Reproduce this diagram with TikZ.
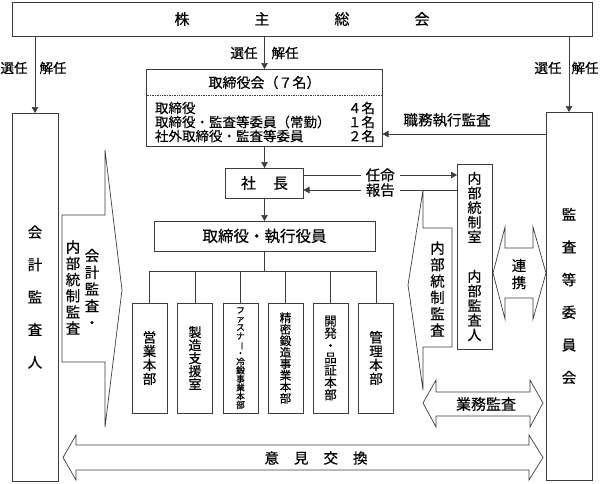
\documentclass[tikz,border=0pt]{standalone}
\usepackage{fontspec}
\setmainfont[FakeBold=0.35]{Noto Sans CJK JP}
\usetikzlibrary{arrows.meta}
\definecolor{lc}{HTML}{3C3C3C}
\newcommand\jfs[2]{\fontsize{#1}{#2}\selectfont}
\begin{document}
\begin{tikzpicture}[x=1pt,y=-1pt,
  every node/.style={inner sep=0pt, outer sep=0pt},
  box/.style={draw=lc, line width=0.7pt, fill=white},
  shp/.style={draw=lc, line width=0.7pt, line join=miter},
  conn/.style={draw=lc, line width=0.7pt},
  arr/.style={conn, -{Triangle[length=6pt,width=6.5pt]}},
  lab/.style={font=\jfs{13.5}{15}},
  vt/.style={align=center},
]
\useasboundingbox (0,0) rectangle (604,483);

% main boxes
\node[box, minimum width=580pt, minimum height=34pt, font=\jfs{15}{16}] (sh) at (302,19)
  {株\hspace{65pt}主\hspace{65pt}総\hspace{65pt}会};
\node[box, vt, minimum width=46pt, minimum height=368pt, font=\jfs{14.5}{32.5}] (acct) at (35,297)
  {会\\計\\監\\査\\人};
\node[box, vt, minimum width=46pt, minimum height=368pt, font=\jfs{14.5}{32.6}] (aud) at (569,296)
  {監\\査\\等\\委\\員\\会};

% board
\node[box, minimum width=236pt, minimum height=77pt] (board) at (264.5,107.5) {};
\node[font=\jfs{14}{15}] (bh) at (264.5,82.5) {取締役会（７名）};
\draw[lc, densely dotted, line width=0.7pt] ([yshift=-26pt]board.north west) -- ([yshift=-26pt]board.north east);
\node[lab, anchor=west] (r1) at (155,108) {取締役};
\node[lab, anchor=west] (r2) at (155,122) {取締役・監査等委員（常勤）};
\node[lab, anchor=west] (r3) at (155,136) {社外取締役・監査等委員};
\node[lab, anchor=east] (n1) at (375,108) {４名};
\node[lab, anchor=east] (n2) at (375,122) {１名};
\node[lab, anchor=east] (n3) at (375,136) {２名};

\node[box, minimum width=78pt, minimum height=30pt, font=\jfs{15}{16}] (pres) at (264.5,183) {社\hspace{17pt}長};
\node[box, minimum width=221pt, minimum height=30pt, font=\jfs{15.5}{16}] (exec) at (264.5,236) {取締役・執行役員};

% departments
\node[box, vt, minimum width=35pt, minimum height=110pt, font=\jfs{13.5}{13.8}] (d1) at (149.5,358) {営\\業\\本\\部};
\node[box, vt, minimum width=35pt, minimum height=110pt, font=\jfs{13}{13}] (d2) at (195,358) {製\\造\\支\\援\\室};
\node[box, vt, minimum width=35pt, minimum height=110pt, font=\jfs{8.8}{8.6}] (d3) at (240.5,358)
  {フ\\ァ\\ス\\ナ\\\rotatebox[origin=c]{-90}{ー}\\・\\冷\\鍛\\事\\業\\本\\部};
\node[box, vt, minimum width=35pt, minimum height=110pt, font=\jfs{11.5}{11.5}] (d4) at (285.5,358) {精\\密\\鍛\\造\\事\\業\\本\\部};
\node[box, vt, minimum width=35pt, minimum height=110pt, font=\jfs{12.5}{12.3}] (d5) at (330.5,358) {開\\発\\・\\品\\証\\本\\部};
\node[box, vt, minimum width=35pt, minimum height=110pt, font=\jfs{13.5}{13.8}] (d6) at (376,358) {管\\理\\本\\部};

% internal control room
\node[box, vt, minimum width=35pt, minimum height=185pt, font=\jfs{14}{14.6}] (irc) at (474.5,256.5)
  {内\\部\\統\\制\\室\\[25pt]内\\部\\監\\査\\人};

% selection arrows
\draw[arr] (acct.north |- sh.south) -- (acct.north);
\draw[arr] (aud.north |- sh.south) -- (aud.north);
\draw[arr] (board.north |- sh.south) -- (board.north);
\node[lab] (la1) at (14,68) {選任};
\node[lab] (la2) at (53,68) {解任};
\node[lab] (lb1) at (548,68) {選任};
\node[lab] (lb2) at (585,68) {解任};
\node[lab] (lc1) at (244,53) {選任};
\node[lab] (lc2) at (285,53) {解任};

% board -> president -> exec
\draw[arr] (board.south) -- (pres.north);
\draw[arr] (pres.south) -- (exec.north);

% tree
\coordinate (tj) at (264.5,271);
\draw[conn] (exec.south) -- (tj);
\draw[conn] (d1.north |- tj) -- (d6.north |- tj);
\foreach \i in {1,...,6} \draw[conn] (d\i.north |- tj) -- (d\i.north);

% duty audit
\draw[arr] ([yshift=-22pt]aud.north west) -- ([yshift=-22pt]aud.north west -| board.east);
\node[lab, font=\jfs{14.5}{16}] (jm) at (447,120) {職務執行監査};

% appoint / report
\draw[arr] ([yshift=8pt]pres.east) -- ([yshift=8pt]pres.east -| irc.west)
  node[midway, fill=white, inner xsep=5pt, inner ysep=1pt, font=\jfs{14.5}{16}] (nm) {任命};
\draw[arr] ([yshift=-7pt]pres.east -| irc.west) -- ([yshift=-7pt]pres.east)
  node[midway, fill=white, inner xsep=5pt, inner ysep=1pt, font=\jfs{14.5}{16}] (hk) {報告};

% left callout: accounting audit / internal control audit
\draw[shp] (105,150) -- (122,290) -- (105,427) -- (105,362) -- (62,362) -- (62,215) -- (105,215) -- cycle;
\node[vt, font=\jfs{14.5}{16.75}] (lt1) at (92,288.5) {会\\計\\監\\査\\・};
\node[vt, font=\jfs{14.5}{16.2}] (lt2) at (73,287.5) {内\\部\\統\\制\\監\\査};

% right callout: internal control audit
\draw[shp] (423,190) -- (408,285) -- (423,390) -- (423,347) -- (452,347) -- (452,228) -- (423,228) -- cycle;
\node[vt, font=\jfs{14.5}{16.4}] (rt) at (437.5,289) {内\\部\\統\\制\\監\\査};

% cooperation double arrow
\draw[shp] (493,273) -- (505,227) -- (505,248) -- (533,248) -- (533,227) -- (546,273)
  -- (533,319) -- (533,298) -- (505,298) -- (505,319) -- cycle;
\node[vt, font=\jfs{14.5}{17}] (rk) at (519,274) {連\\携};

% operations audit double arrow
\draw[shp] (423,403) -- (436,380) -- (436,392) -- (530,392) -- (530,380) -- (543,403)
  -- (530,427) -- (530,416) -- (436,416) -- (436,427) -- cycle;
\node[font=\jfs{15}{16}] (gm) at (486,404) {業務監査};

% opinion exchange double arrow
\draw[shp] (63,457.5) -- (76,435) -- (76,445) -- (529,445) -- (529,435) -- (543,457.5)
  -- (529,480) -- (529,470) -- (76,470) -- (76,480) -- cycle;
\node[font=\jfs{14.5}{16}] (ik) at (316,458) {意\hspace{15pt}見\hspace{15pt}交\hspace{15pt}換};
\end{tikzpicture}
\end{document}
